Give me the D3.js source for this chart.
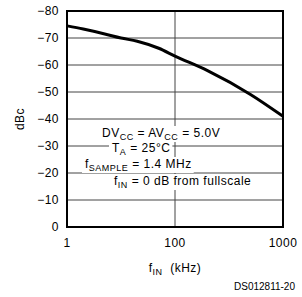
<!DOCTYPE html>
<html><head><meta charset="utf-8">
<script src="https://cdn.jsdelivr.net/npm/d3@7"></script>
<style>
html,body{margin:0;padding:0;background:#fff;}
text{font-family:"Liberation Sans",Arial,sans-serif;fill:#000;}
.sp{letter-spacing:0.5px;}
</style></head>
<body>
<svg id="c" width="302" height="297"></svg>
<script>
const freqKHz = [1, 2, 5, 10, 20, 50, 100, 200, 500, 1000];
const dBc = [-74.5, -73.3, -71.5, -70, -68.8, -66.2, -63.3, -57.9, -49.1, -41];
const yTicks = [0, -10, -20, -30, -40, -50, -60, -70, -80];
const xTicks = [1, 100, 1000];
const xTickLabels = ["1", "100", "1000"];

const svg = d3.select("#c");
const L = 67, R = 283, T = 11, B = 227;
const x = d3.scaleLog().domain([1, 100, 1000]).range([L, (L + R) / 2, R]);
const y = d3.scaleLinear().domain([0, -80]).range([B, T]);

// grid
const grid = svg.append("g");
grid.selectAll("line.h").data(yTicks.filter(d => d !== 0 && d !== -80)).join("line")
  .attr("x1", L).attr("x2", R).attr("y1", d => y(d)).attr("y2", d => y(d))
  .attr("stroke", "#444").attr("stroke-width", 1);
grid.selectAll("line.v").data([100]).join("line")
  .attr("x1", d => x(d)).attr("x2", d => x(d)).attr("y1", T).attr("y2", B)
  .attr("stroke", "#444").attr("stroke-width", 1);

// curve
svg.append("path")
  .datum(freqKHz.map((f, i) => [f, dBc[i]]))
  .attr("fill", "none").attr("stroke", "#000").attr("stroke-width", 3)
  .attr("d", d3.line().x(d => x(d[0])).y(d => y(d[1])).curve(d3.curveMonotoneX));

// annotation
const ann = svg.append("g");
const lines = [
  {x: 102, y: 137, parts: [["DV"], ["CC", 1], [" = AV"], ["CC", 1], [" = 5.0V"]]},
  {x: 112, y: 152, parts: [["T"], ["A", 1], [" = 25°C"]]},
  {x: 85, y: 168, parts: [["f"], ["SAMPLE", 1], [" = 1.4 MHz"]]},
  {x: 114, y: 185, parts: [["f"], ["IN", 1], [" = 0 dB from fullscale"]]}
];
lines.forEach(ln => {
  const g = ann.append("g");
  const rect = g.append("rect").attr("fill", "#fff");
  const t = g.append("text").attr("class", "sp").attr("x", ln.x).attr("y", ln.y).attr("font-size", 12);
  let sub = false;
  ln.parts.forEach(p => {
    const ts = t.append("tspan").text(p[0]);
    if (p[1] && !sub) { ts.attr("font-size", 9).attr("dy", 3); sub = true; }
    else if (!p[1] && sub) { ts.attr("dy", -3); sub = false; }
  });
  const bb = t.node().getBBox();
  rect.attr("x", bb.x - 3).attr("y", bb.y).attr("width", bb.width + 5).attr("height", bb.height);
});

// border
svg.append("rect").attr("x", L).attr("y", T).attr("width", R - L).attr("height", B - T)
  .attr("fill", "none").attr("stroke", "#000").attr("stroke-width", 2);

// y tick labels
svg.selectAll("text.yt").data(yTicks).join("text").attr("class", "sp")
  .attr("x", 59).attr("y", d => y(d)).attr("dy", "0.35em")
  .attr("text-anchor", "end").attr("font-size", 12)
  .text(d => d === 0 ? "0" : "\u2212" + Math.abs(d));

// x tick labels
svg.selectAll("text.xt").data(xTicks).join("text").attr("class", "sp")
  .attr("x", d => x(d)).attr("y", 247)
  .attr("text-anchor", "middle").attr("font-size", 12)
  .text((d, i) => xTickLabels[i]);

// axis titles
const xt = svg.append("text").attr("class", "sp").attr("x", 175).attr("y", 272).attr("text-anchor", "middle").attr("font-size", 12);
xt.append("tspan").text("f");
xt.append("tspan").text("IN").attr("font-size", 9).attr("dy", 3);
xt.append("tspan").text("\u00a0\u00a0(kHz)").attr("dy", -3);

svg.append("text").attr("class", "sp").attr("transform", "translate(24,119) rotate(-90)")
  .attr("text-anchor", "middle").attr("font-size", 12).text("dBc");

svg.append("text").attr("x", 295).attr("y", 290).attr("text-anchor", "end")
  .attr("font-size", 10).text("DS012811-20");
</script>
</body></html>
